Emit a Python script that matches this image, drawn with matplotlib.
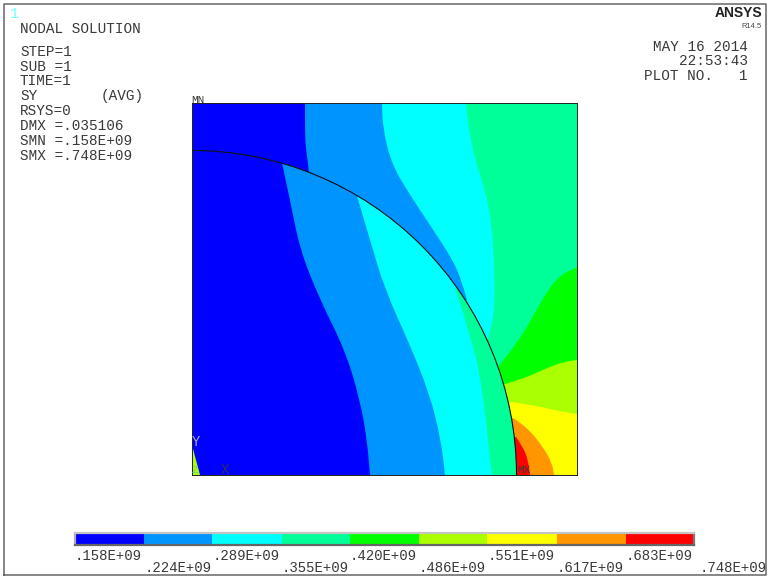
"""ANSYS nodal solution plot (SY) rebuilt with matplotlib."""

import matplotlib
matplotlib.use("Agg")
import matplotlib.pyplot as plt
from matplotlib.patches import Circle, PathPatch
from matplotlib.path import Path

W, H = 770, 580
MONO = "Liberation Mono"
INK = "#3a3a3a"

levels = [0.158e9, 0.224e9, 0.289e9, 0.355e9, 0.420e9, 0.486e9, 0.551e9, 0.617e9, 0.683e9, 0.748e9]
level_labels = [".158E+09", ".224E+09", ".289E+09", ".355E+09", ".420E+09",
                ".486E+09", ".551E+09", ".617E+09", ".683E+09", ".748E+09"]
colors = ["#0000ff", "#0094ff", "#00ffff", "#00ff99", "#00ff00",
          "#aaff00", "#ffff00", "#ff9500", "#ff0000"]

plate_w, plate_h = 385, 372
radius = 324.5

# contour lines outside the arc, running from the arc to the plate edge
outer_lines = {
    1: [(117, 303), (114, 325), (113, 340), (113, 372)],
    2: [(275, 175), (270, 193), (261, 215), (238, 250), (218, 280), (200, 310), (191, 345), (190, 372)],
    3: [(296, 137), (299, 145), (303, 172), (302, 210), (300, 250), (293, 285), (283, 315), (276, 350), (274, 372)],
    4: [(306, 108), (328, 135), (348, 172), (365, 198), (385, 208)],
    5: [(313, 91), (331, 96), (355, 107), (371, 113), (385, 115)],
    6: [(319, 73), (341, 70), (361, 65), (385, 61)],
    7: [(321, 57), (335, 48), (351, 28), (360, 12), (362, 0)],
    8: [(324, 38), (331, 28), (336, 15), (338, 0)],
}

# contour lines inside the arc, running from the arc down to y=0
inner_lines = {
    1: [(90, 312), (98, 275), (108, 225), (128, 175), (153, 125), (168, 75), (175, 35), (178, 0)],
    2: [(165, 279), (178, 235), (193, 185), (218, 130), (238, 80), (249, 35), (253, 0)],
    3: [(263, 187), (281, 132), (291, 82), (298, 15), (300, 0)],
}

# small high stress sliver at the origin
corner_band = 5
corner_x = [0, 8, 0]
corner_y = [30, 0, 0]

left_lines = [
    ("NODAL SOLUTION", 29), ("STEP=1", 52), ("SUB =1", 67), ("TIME=1", 81), ("SY", 96),
    ("RSYS=0", 111), ("DMX =.035106", 126), ("SMN =.158E+09", 141), ("SMX =.748E+09", 156),
]
right_lines = [("MAY 16 2014", 47), ("22:53:43", 61), ("PLOT NO.   1", 76)]


def px_axes(fig, left, top, right, bottom):
    return fig.add_axes([left / W, 1 - bottom / H, (right - left) / W, (bottom - top) / H])


def px_text(fig, x, y, s, size=10.4, color=INK, ha="left", **kw):
    kw.setdefault("family", MONO)
    fig.text(x / W, 1 - y / H, s, fontsize=size, color=color, ha=ha, va="center", **kw)


def smooth_closed(line, tail):
    # rounds the contour with quadratic pieces, tail closes it round the plate
    verts = [line[0]]
    codes = [Path.MOVETO]
    for p, q in zip(line[1:-1], line[2:]):
        verts += [p, ((p[0] + q[0]) / 2, (p[1] + q[1]) / 2)]
        codes += [Path.CURVE3, Path.CURVE3]
    verts.append(line[-1])
    codes.append(Path.LINETO)
    for pt in tail:
        verts.append(pt)
        codes.append(Path.LINETO)
    verts.append(line[0])
    codes.append(Path.CLOSEPOLY)
    return Path(verts, codes)


def outer_tail(line):
    # walk round the plate corners, the arc fill hides the part under it
    x, y = line[-1]
    tail = []
    if y >= plate_h:
        tail.append((plate_w, plate_h))
    if y > 0:
        tail.append((plate_w, 0))
    tail.append((0, 0))
    return tail


def draw_plate(ax):
    ax.set_facecolor(colors[0])
    for band, line in outer_lines.items():
        path = smooth_closed(line, outer_tail(line))
        ax.add_patch(PathPatch(path, fc=colors[band], ec="none", lw=0))

    ax.add_patch(Circle((0, 0), radius, fc=colors[0], ec="none", zorder=3))
    clip = Circle((0, 0), radius, transform=ax.transData)
    for band, line in inner_lines.items():
        path = smooth_closed(line, [(plate_w, 0), (plate_w, plate_h)])
        patch = PathPatch(path, fc=colors[band], ec="none", lw=0, zorder=4)
        ax.add_patch(patch)
        patch.set_clip_path(clip)
    ax.fill(corner_x, corner_y, color=colors[corner_band], lw=0, zorder=5)
    ax.add_patch(Circle((0, 0), radius, fc="none", ec="#111111", lw=0.8, zorder=6))

    ax.set_xlim(0, plate_w)
    ax.set_ylim(0, plate_h)
    ax.set_xticks([])
    ax.set_yticks([])
    for spine in ax.spines.values():
        spine.set_color("#222222")
        spine.set_linewidth(0.7)
        spine.set_zorder(7)


def draw_legend(ax):
    ax.barh(0, [b - a for a, b in zip(levels[:-1], levels[1:])], left=levels[:-1],
            height=1, color=colors, lw=0)
    ax.set_xlim(levels[0], levels[-1])
    ax.set_ylim(-0.5, 0.5)
    ax.set_yticks([])
    ax.set_xticks([])
    for name, col in [("top", "#c4c4c4"), ("left", "#b0b0b0"), ("right", "#777777"), ("bottom", "#666666")]:
        ax.spines[name].set_color(col)
        ax.spines[name].set_linewidth(1.6)
    for i, (lev, lab) in enumerate(zip(levels, level_labels)):
        dx = 4 if i == len(levels) - 1 else 0
        dy = -12.4 if i % 2 == 0 else -21.2
        ax.annotate(lab, (lev, 0), xycoords="data", xytext=(dx, dy),
                    textcoords="offset points", fontsize=10.1, family=MONO, color=INK,
                    ha="left", va="center", annotation_clip=False)


def main():
    fig = plt.figure(figsize=(W / 100, H / 100), dpi=100, facecolor="white")

    frame = fig.add_axes([0, 0, 1, 1])
    frame.set_xlim(0, W)
    frame.set_ylim(H, 0)
    frame.axis("off")
    frame.plot([3.5, 3.5, 765.5, 765.5, 3.5], [575, 4, 4, 575, 575], color="#666666", lw=1.1)

    draw_plate(px_axes(fig, 192, 103, 577, 475))
    draw_legend(px_axes(fig, 75, 533, 694, 545))

    px_text(fig, 9.5, 14, "1", color="#70ffff", size=11)
    for s, y in left_lines:
        px_text(fig, 20, y, s)
    px_text(fig, 101, 96, "(AVG)")
    for s, y in right_lines:
        px_text(fig, 748, y, s, ha="right")
    px_text(fig, 762, 13, "ANSYS", size=10, color="#222222", ha="right", family="Liberation Sans", fontweight="bold")
    px_text(fig, 762, 26, "R14.5", size=5.4, color="#444444", ha="right", family="Liberation Sans")

    px_text(fig, 191, 100, "MN", size=8)
    px_text(fig, 517, 470, "MX", size=8)
    px_text(fig, 192, 442, "Y", size=10, color="#a8a8c8")
    px_text(fig, 221, 470, "X", size=10, color="#303050")
    px_text(fig, 192, 470, "Z", size=8, color="#66cc88")

    fig.savefig("out.png", dpi=100)
    plt.close(fig)


if __name__ == "__main__":
    main()
